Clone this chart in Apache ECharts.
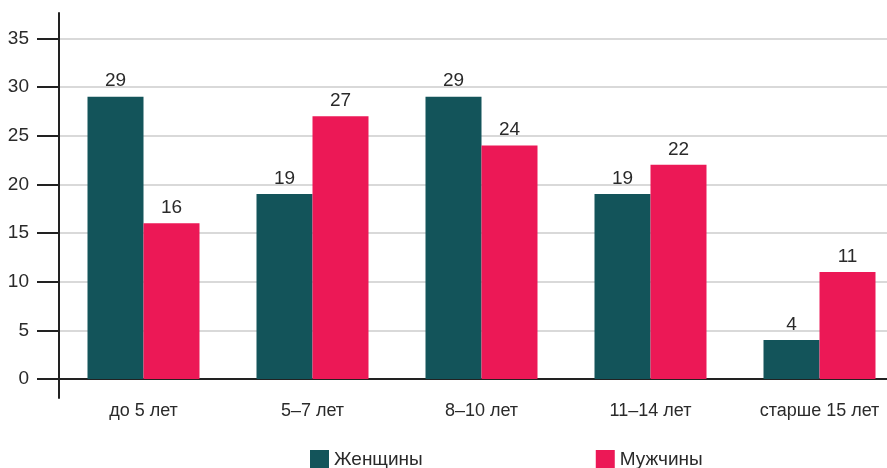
<!DOCTYPE html>
<html>
<head>
<meta charset="utf-8">
<script src="https://cdn.jsdelivr.net/npm/echarts@6/dist/echarts.min.js"></script>
<style>
  html, body { margin: 0; padding: 0; background: #fff; }
  #chart { width: 887px; height: 468px; }
</style>
</head>
<body>
<div id="chart"></div>
<script>
// Data
const categories = ['до 5 лет', '5–7 лет', '8–10 лет', '11–14 лет', 'старше 15 лет'];
const women = [29, 19, 29, 19, 4];
const men = [16, 27, 24, 22, 11];
const yTicks = [0, 5, 10, 15, 20, 25, 30, 35];

const textColor = '#2a2a2a';
const fontFamily = "'Liberation Sans', Arial, sans-serif";

const chart = echarts.init(document.getElementById('chart'));

const labelStyle = {
  show: true,
  position: 'top',
  distance: 6,
  color: textColor,
  fontSize: 19,
  fontFamily: fontFamily,
};

chart.setOption({
  animation: false,
  textStyle: { fontFamily: fontFamily },
  // plot runs past the right edge, as in the original
  grid: { left: 59, right: -17, top: 13, bottom: 70, outerBoundsMode: 'none' },
  legend: {
    left: 310,
    top: 450,
    padding: 0,
    itemWidth: 19,
    itemHeight: 19,
    itemGap: 173,
    icon: 'rect',
    textStyle: { color: textColor, fontSize: 19, fontFamily: fontFamily },
    data: ['Женщины', 'Мужчины'],
  },
  xAxis: {
    type: 'category',
    data: categories,
    axisLine: { onZero: true, lineStyle: { color: '#222', width: 2 } },
    axisTick: { show: false },
    axisLabel: { color: textColor, fontSize: 18, margin: 4, interval: 0 },
  },
  yAxis: {
    type: 'value',
    min: -1.95,
    max: 37.6,
    axisLine: { show: true, lineStyle: { color: '#222', width: 2 } },
    axisTick: {
      show: true,
      length: 22,
      customValues: yTicks,
      lineStyle: { color: '#222', width: 2 },
    },
    axisLabel: {
      color: textColor,
      fontSize: 19,
      margin: 30,
      customValues: yTicks,
    },
    splitLine: { show: true, lineStyle: { color: '#d9d9d9', width: 2 } },
  },
  series: [
    {
      name: 'Женщины',
      type: 'bar',
      data: women,
      barWidth: 56,
      barGap: '0%',
      itemStyle: { color: '#13545a' },
      label: labelStyle,
    },
    {
      name: 'Мужчины',
      type: 'bar',
      data: men,
      barWidth: 56,
      itemStyle: { color: '#ec1856' },
      label: labelStyle,
    },
  ],
});
</script>
</body>
</html>
